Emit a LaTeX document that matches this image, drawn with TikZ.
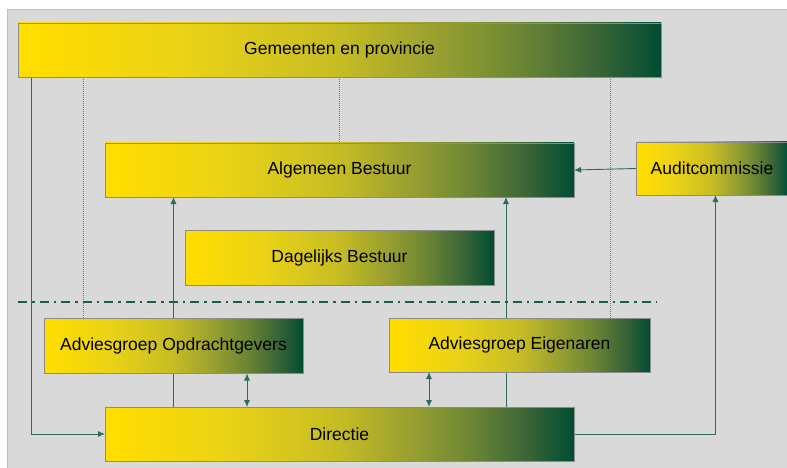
\documentclass[tikz,border=0pt]{standalone}
\usepackage{fontspec}
\setmainfont{Liberation Sans}
\usetikzlibrary{arrows.meta,calc,backgrounds}

\definecolor{bggray}{HTML}{D9D9D9}
\definecolor{framegray}{HTML}{BFBFBF}
\definecolor{boxedge}{HTML}{8C8C8C}
\definecolor{gyellow}{HTML}{FFDD00}
\definecolor{gstepa}{HTML}{EBD316}
\definecolor{gstepb}{HTML}{C6BC24}
\definecolor{gstepc}{HTML}{99A030}
\definecolor{gstepd}{HTML}{6C8634}
\definecolor{gstepe}{HTML}{3A6537}
\definecolor{gdark}{HTML}{004D33}
\definecolor{linkgreen}{HTML}{2E6B5E}

\pgfdeclarehorizontalshading{gradbox}{100bp}{color(0bp)=(gyellow); color(26bp)=(gyellow);
    color(37.5bp)=(gstepa); color(50bp)=(gstepb); color(57.5bp)=(gstepc);
    color(64bp)=(gstepd); color(70bp)=(gstepe); color(75bp)=(gdark); color(100bp)=(gdark)}

\begin{document}
\begin{tikzpicture}[
    x=1pt, y=-1pt,
    box/.style = {rectangle, draw=boxedge, line width=0.9pt, inner sep=0pt, outer sep=0pt,
                  shade, shading=gradbox,
                  font=\fontsize{17.5}{20}\selectfont, text=black},
    link/.style = {draw=linkgreen, line width=0.9pt},
    dots/.style = {draw=linkgreen!80, line width=0.7pt, dash pattern=on 1pt off 1pt},
    tip/.style = {-{Latex[length=7pt,width=6pt]}},
    both/.style = {{Latex[length=7pt,width=6pt]}-{Latex[length=7pt,width=6pt]}}
]
    \useasboundingbox (0,0) rectangle (787,468);
    % Boxes
    \node[box, minimum width=643pt, minimum height=54pt] (gem) at (339.5,50) {Gemeenten en provincie};
    \node[box, minimum width=469pt, minimum height=54pt] (ab) at (339.5,170) {Algemeen Bestuur};
    \node[box, minimum width=152pt, minimum height=53pt] (audit) at (712,168.5) {Auditcommissie};
    \node[box, minimum width=309pt, minimum height=55pt] (db) at (339.5,258) {Dagelijks Bestuur};
    \node[box, minimum width=259pt, minimum height=55pt] (aog) at (173.5,346) {Adviesgroep Opdrachtgevers};
    \node[box, minimum width=261pt, minimum height=54pt] (aeg) at (519.5,345) {Adviesgroep Eigenaren};
    \node[box, minimum width=469pt, minimum height=54pt] (dir) at (339.5,434) {Directie};
    % Helper points
    \coordinate (g1) at ($(gem.south west)+(13,0)$);
    \coordinate (g2) at ($(gem.south west)+(65,0)$);
    \coordinate (g3) at ($(gem.south west)+(592,0)$);
    \coordinate (up2) at ([xshift=-68pt]ab.south east);
    \coordinate (d1) at ([xshift=73.5pt]aog.south);
    \coordinate (d2) at ([xshift=40pt]aeg.south west);
    \coordinate (au) at ([xshift=3.5pt]audit.south);
    % Connectors behind the boxes
    \begin{scope}[on background layer]
        \fill[bggray] (7,10) rectangle (800,480);
        \draw[framegray, line width=1pt] (800,10) -- (7,10) -- (7,480);
        \draw[dots] (g2) -- (g2 |- aog.north);
        \draw[dots] (gem.south) -- (ab.north);
        \draw[dots] (g3) -- (g3 |- aeg.north);
        \draw[link, tip] (g1) |- (dir.west);
        \draw[link, tip] (aog.center |- dir.north) -- (aog.center |- ab.south);
        \draw[link, tip] (up2 |- dir.north) -- (up2);
        \draw[link, tip] (audit.west) -- (ab.east);
        \draw[link, tip] (dir.east) -| (au);
        \draw[link, both] (d1) -- (d1 |- dir.north);
        \draw[link, both] (d2) -- (d2 |- dir.north);
        % Boundary line
        \draw[gdark!90, line width=2.4pt, dash pattern=on 9pt off 5pt on 2.5pt off 5pt]
            (18,302) -- (657,302);
    \end{scope}
\end{tikzpicture}
\end{document}
